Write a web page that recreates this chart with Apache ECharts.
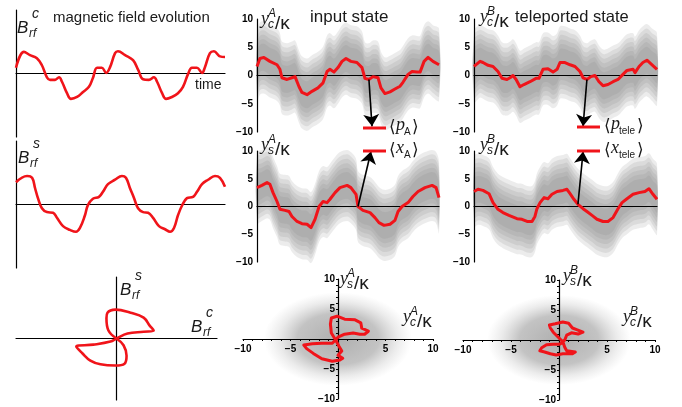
<!DOCTYPE html>
<html>
<head>
<meta charset="utf-8">
<script src="https://cdn.jsdelivr.net/npm/echarts@6/dist/echarts.min.js"></script>
<style>
  html, body { margin: 0; padding: 0; background: #fff; }
  #chart { width: 682px; height: 407px; }
</style>
</head>
<body>
<div id="chart"></div>
<script>
// magnetic field, cos quadrature (time 0..100, arb. units)
const bcT = [0,3.8,6.7,10.0,12.4,14.8,16.3,18.7,20.6,22.0,24.4,26.3,29.2,32.1,34.9,36.8,38.8,41.1,43.1,45.0,47.4,48.8,52.2,56.0,58.4,60.8,63.6,66.0,67.5,69.9,71.8,74.6,77.5,79.9,82.3,84.2,86.6,89.0,90.4,92.8,94.7,97.6,100]
const bcV = [0.09,0.34,0.29,0.24,0.13,-0.06,-0.10,-0.10,-0.06,-0.13,-0.31,-0.40,-0.37,-0.29,-0.21,-0.07,0.09,0.09,0.01,0.10,0.32,0.35,0.29,0.21,0.06,-0.09,-0.10,-0.06,-0.13,-0.31,-0.40,-0.37,-0.31,-0.21,-0.01,0.09,0.09,0.01,0.10,0.32,0.35,0.27,0.26]
// magnetic field, sin quadrature
const bsT = [0,5.3,7.7,9.1,10.5,12.4,14.8,17.7,19.6,22.5,25.8,28.7,30.6,33.0,34.4,36.8,39.7,41.6,44.0,47.4,50.7,52.6,54.5,56.5,58.4,60.8,63.2,65.6,68.4,71.3,73.7,75.6,77.5,79.4,81.8,84.7,86.6,89.0,91.9,95.2,97.6,100]
const bsV = [0.35,0.45,0.42,0.26,0.10,-0.06,-0.12,-0.13,-0.21,-0.34,-0.40,-0.43,-0.37,-0.17,-0.01,0.09,0.12,0.20,0.32,0.39,0.45,0.42,0.26,0.10,-0.06,-0.12,-0.13,-0.21,-0.34,-0.39,-0.43,-0.37,-0.17,-0.02,0.10,0.12,0.20,0.32,0.39,0.45,0.42,0.28]
// phase-space loop of the field
const loopBc = [0,-0.08,-0.10,-0.09,-0.01,0.14,0.27,0.33,0.37,0.27,0.11,0,-0.06,-0.23,-0.40,-0.34,-0.26,-0.16,-0.01,0.08,0.10,0.07,0]
const loopBs = [0,0.13,0.33,0.42,0.47,0.42,0.34,0.21,0.13,0.11,0.08,0,-0.05,-0.10,-0.13,-0.24,-0.36,-0.42,-0.44,-0.41,-0.28,-0.11,0]

// input state, y_c^A / kappa
const ycAT = [0,1.6,3.8,7.1,11.0,12.6,13.7,16.5,19.2,20.9,23.1,24.7,27.5,30.2,33.5,36.3,38.5,40.1,42.3,44.5,46.7,48.9,51.6,54.9,57.7,59.3,61.5,63.7,66.5,68.1,70.3,73.1,75.8,78.6,80.2,83.0,85.2,87.9,89.6,91.8,94.0,96.7,100]
const ycAV = [1.6,3.0,3.2,2.5,1.9,1.1,-0.4,-0.7,-0.4,-0.2,-2.0,-3.0,-3.4,-2.8,-2.2,-1.3,0.7,1.1,0.6,1.4,2.5,3.0,2.5,2.3,1.4,-0.5,-0.7,-0.2,-0.4,-2.2,-3.2,-2.9,-2.4,-1.9,-1.2,0.2,0.7,0.6,0.6,2.5,3.2,2.5,1.9]
// input state, y_s^A / kappa
const ysAT = [0,2.7,5.5,7.1,8.8,11.0,12.6,15.4,17.6,19.2,22.0,24.7,27.5,29.7,31.9,34.1,36.3,38.5,40.1,42.9,45.6,49.5,51.6,54.4,55.5,58.2,62.1,64.8,67.0,69.8,73.1,75.8,77.5,79.7,83.0,85.7,88.5,92.3,96.2,98.4,100]
const ysAV = [3.4,3.8,4.3,4.0,2.5,0.9,-0.5,-0.7,-0.9,-1.8,-2.7,-3.1,-3.2,-3.8,-2.3,0,0.9,0.7,1.3,2.5,3.4,3.8,3.4,2.2,0,-0.7,-1.1,-2.0,-2.9,-3.4,-3.2,-2.5,-0.9,0,0.7,1.8,2.7,3.4,3.8,3.4,1.6]
// teleported state, y_c^B / kappa
const ycBT = [0,3.3,4.9,7.7,10.4,13.1,15.3,18.0,19.7,21.3,23.0,25.1,27.3,30.6,33.9,35.5,37.7,40.4,43.2,45.4,47.0,49.7,52.5,55.2,57.9,59.6,61.7,63.9,66.1,68.3,70.5,73.2,76.0,78.7,81.4,83.6,86.9,88.0,90.2,92.3,94.5,97.3,100]
const ycBV = [1.6,2.5,2.3,1.8,1.6,0.7,-0.5,-0.7,-0.4,0,-0.7,-2.0,-1.6,-1.1,-0.5,-0.5,1.1,1.2,0.6,1.1,2.3,2.3,1.9,1.6,0.7,-0.4,-0.7,-0.2,0,-1.1,-1.8,-1.6,-1.1,-0.7,0.2,0.9,1.1,0.5,1.6,2.3,2.7,1.9,1.1]
// teleported state, y_s^B / kappa
const ysBT = [0,2.2,4.9,8.2,10.4,13.1,15.8,19.1,23.5,26.2,29.0,31.7,33.3,34.4,36.1,38.3,40.4,42.6,45.4,48.6,50.8,52.5,54.6,56.8,59.6,61.7,64.5,67.2,70.5,73.2,76.0,78.7,80.9,83.6,86.9,90.2,93.4,95.6,97.8,100]
const ysBV = [2.7,3.1,2.9,2.3,0.7,-0.5,-1.1,-1.6,-2.2,-2.3,-2.7,-2.7,-1.8,-0.4,0.7,1.6,1.4,2.2,2.7,2.9,3.1,2.3,1.3,0.4,-0.4,-0.9,-1.6,-2.3,-2.7,-2.7,-2.0,-0.4,0.7,1.4,2.2,2.5,2.7,3.2,2.2,1.3]
// half-widths of the measurement noise cloud (outer sparse .. inner dense)
const noiseSpread = [6.4, 5.6, 4.8, 4.0, 3.2, 2.4]

// phase-space loops (y_c, y_s)
const loopAc = [-0.2,-0.7,-0.8,-0.7,-0.1,0.7,1.8,2.4,2.5,3.2,2.8,2.3,1.6,0.7,0,-0.6,-1.7,-2.7,-3.6,-3.3,-2.6,-1.7,-0.6,0.2,0.5,0,0.4,0.1,-0.2]
const loopAs = [-0.3,1.0,2.5,3.5,3.8,3.3,3.2,2.7,1.8,1.3,0.8,0.8,1.0,0.8,0.3,-0.7,-0.7,-0.8,-1.0,-1.6,-2.4,-3.3,-3.7,-3.5,-3.2,-2.7,-2.0,-1.2,-0.3]
const loopBc2 = [-0.1,-0.6,-0.9,-1.0,-0.4,0.4,1.0,1.4,1.9,2.5,2.0,1.3,0.8,0.6,0.1,-0.6,-1.3,-1.8,-2.0,-1.5,-0.9,-0.3,0.4,1.4,1.7,0.8,0.6,0.4,-0.1]
const loopBs2 = [0.5,1.3,2.0,2.5,2.7,3.0,2.8,2.0,1.7,1.3,1.0,1.2,0.8,0,-0.7,-0.7,-0.8,-1.3,-1.8,-2.0,-2.3,-2.5,-2.3,-2.3,-2.0,-1.8,-1.2,-0.3,0.5]
// noise clouds: centre x, centre y, radius
const cloudA = [0, 0, 7.8]
const cloudB = [0, 0, 7.5]

// arrows from the traces to the legend keys
const arrowAtop = [[61.5, -0.7], [63.2, -9.0]]
const arrowAbot = [[55.5, 0], [62.6, 9.9]]
const arrowBtop = [[61.7, -0.7], [59.6, -9.0]]
const arrowBbot = [[56.8, 0.4], [59.6, 9.9]]

const RED = '#f0141a'
const zip = (a, b) => a.map((v, i) => [v, b[i]])

const chart = echarts.init(document.getElementById('chart'))

const grids = [
  { left: 16, top: 10, width: 209, height: 127 },
  { left: 16, top: 141, width: 209, height: 127 },
  { left: 16, top: 277, width: 201, height: 123 },
  { left: 257, top: 19, width: 182, height: 113 },
  { left: 257, top: 151, width: 182, height: 111 },
  { left: 243, top: 279, width: 190, height: 120 },
  { left: 474, top: 19, width: 183, height: 113 },
  { left: 474, top: 151, width: 183, height: 111 },
  { left: 463, top: 280, width: 192, height: 120 },
]

const line = { onZero: true, lineStyle: { color: '#000', width: 1.2 } }
const none = { show: false }
function plainAxis(i, min, max) {
  return { gridIndex: i, type: 'value', min: min, max: max, z: 1,
    axisLine: line, axisTick: none, axisLabel: none, splitLine: none }
}
const minus = (v) => String(v).replace('-', '\u2212')
const tickFont = { fontSize: 10, fontWeight: 'bold', color: '#000', fontFamily: '"Liberation Sans", Arial, sans-serif' }
function valueY(i) {
  return { gridIndex: i, type: 'value', min: -10, max: 10, interval: 5, z: 1,
    axisLine: line, axisTick: none, splitLine: none,
    axisLabel: Object.assign({ margin: 4, formatter: minus }, tickFont) }
}
// phase-space axes cross in the middle of the grid
function phaseAxis(i, dim) {
  const g = grids[i]
  return { gridIndex: i, type: 'value', min: -10, max: 10, interval: 1, z: 1,
    position: dim === 'x' ? 'bottom' : 'left',
    offset: dim === 'x' ? -g.height / 2 : -g.width / 2,
    axisLine: { onZero: false, lineStyle: { color: '#000', width: 1.2 } }, splitLine: none,
    axisTick: { show: true, length: 2, lineStyle: { color: '#000', width: 1 } },
    axisLabel: Object.assign({ margin: dim === 'x' ? 5 : 3, formatter: (v) => (v % 5 === 0 && v !== 0 ? minus(v) : '') }, tickFont) }
}

const xAxes = [
  plainAxis(0, 0, 100), plainAxis(1, 0, 100), plainAxis(2, -1, 1),
  plainAxis(3, 0, 100), plainAxis(4, 0, 100), phaseAxis(5, 'x'),
  plainAxis(6, 0, 100), plainAxis(7, 0, 100), phaseAxis(8, 'x'),
]
const yAxes = [
  plainAxis(0, -1, 1), plainAxis(1, -1, 1), plainAxis(2, -1, 1),
  valueY(3), valueY(4), phaseAxis(5, 'y'),
  valueY(6), valueY(7), phaseAxis(8, 'y'),
]

function redLine(i, pts, smooth, w, arrow) {
  const s = { type: 'line', xAxisIndex: i, yAxisIndex: i, data: pts, smooth: smooth,
    showSymbol: false, silent: true, z: 3, clip: false,
    lineStyle: { color: RED, width: w, join: 'round' } }
  if (arrow) {
    s.markLine = { silent: true, symbol: ['none', 'arrow'], symbolSize: 12, z: 6,
      label: { show: false }, lineStyle: { color: '#000', width: 1.6, type: 'solid' },
      data: [[{ coord: arrow[0] }, { coord: arrow[1] }]] }
  }
  return s
}
// gray noise band around the averaged trace, built from soft layers
function band(i, t, v) {
  return { type: 'custom', xAxisIndex: i, yAxisIndex: i, data: [[0]], z: 0, silent: true,
    renderItem: (params, api) => ({
      type: 'group',
      children: noiseSpread.map((h) => {
        const up = t.map((x, j) => api.coord([x, v[j] + h]))
        const lo = t.map((x, j) => api.coord([x, v[j] - h])).reverse()
        return { type: 'polygon', shape: { points: up.concat(lo), smooth: 0.35 },
          style: { fill: 'rgba(125,125,125,0.15)' } }
      })
    }) }
}
function blob(i, c) {
  return { type: 'custom', xAxisIndex: i, yAxisIndex: i, data: [c], z: 0, silent: true,
    renderItem: (params, api) => {
      const p = api.coord([api.value(0), api.value(1)])
      const s = api.size([api.value(2), api.value(2)])
      return { type: 'circle', x: p[0], y: p[1], scaleY: s[1] / s[0],
        shape: { cx: 0, cy: 0, r: s[0] },
        style: { fill: new echarts.graphic.RadialGradient(0.5, 0.5, 0.5, [
          { offset: 0, color: 'rgba(125,125,125,0.62)' },
          { offset: 0.55, color: 'rgba(130,130,130,0.48)' },
          { offset: 0.8, color: 'rgba(145,145,145,0.18)' },
          { offset: 1, color: 'rgba(160,160,160,0)' }]) } }
    } }
}

const series = [
  redLine(0, zip(bcT, bcV), 0.4, 2.6),
  redLine(1, zip(bsT, bsV), 0.4, 2.6),
  redLine(2, zip(loopBc, loopBs), 0.4, 2.6),
  band(3, ycAT, ycAV), redLine(3, zip(ycAT, ycAV), false, 3, arrowAtop),
  band(4, ysAT, ysAV), redLine(4, zip(ysAT, ysAV), false, 3, arrowAbot),
  blob(5, cloudA), redLine(5, zip(loopAc, loopAs), false, 3),
  band(6, ycBT, ycBV), redLine(6, zip(ycBT, ycBV), false, 3, arrowBtop),
  band(7, ysBT, ysBV), redLine(7, zip(ysBT, ysBV), false, 3, arrowBbot),
  blob(8, cloudB), redLine(8, zip(loopBc2, loopBs2), false, 3),
]

// text helpers (x = left edge, base = baseline)
const SANS = '"Liberation Sans", Arial, sans-serif'
const SERIF = '"Liberation Serif", "Times New Roman", serif'
function txt(x, base, text, size, style, family) {
  return { type: 'text', x: x, y: base - 0.3 * size, silent: true, z: 10,
    style: { text: text, font: (style || 'normal') + ' ' + size + 'px ' + (family || SANS),
      fill: '#1a1a1a', align: 'left', verticalAlign: 'middle', textAlign: 'left', textVerticalAlign: 'middle' } }
}
function bLabel(x, base, sup) {
  return [txt(x, base, 'B', 17, 'italic'), txt(x + 12, base + 4, 'rf', 12, 'italic'), txt(x + 15, base - 15, sup, 14, 'italic')]
}
function yLabel(x, base, sub, sup) {
  return [txt(x, base, 'y', 18, 'italic', SERIF), txt(x + 7, base + 3, sub, 12, 'italic'),
    txt(x + 7, base - 8, sup, 12, 'italic'), txt(x + 14, base + 4, '/\u03ba', 19)]
}
function key(x, y) {
  return { type: 'line', silent: true, z: 10, shape: { x1: x, y1: y, x2: x + 23, y2: y }, style: { stroke: RED, lineWidth: 3 } }
}
function bracket(x, mid, v, sub, w) {
  return [txt(x, mid + 5, '\u27e8', 17, 'normal', '"DejaVu Sans", sans-serif'),
    txt(x + 7, mid + 3, v, 18, 'italic', SERIF), txt(x + 15, mid + 7, sub, 10, 'normal'),
    txt(x + 15 + w, mid + 5, '\u27e9', 17, 'normal', '"DejaVu Sans", sans-serif')]
}

const elements = [
  txt(53, 22, 'magnetic field evolution', 15),
  txt(195, 89, 'time', 14),
  ...bLabel(17, 33, 'c'),
  ...bLabel(18, 163, 's'),
  ...bLabel(120, 295, 's'),
  ...bLabel(191, 332, 'c'),
  txt(310, 22, 'input state', 17),
  txt(515, 22, 'teleported state', 16.5),
  ...yLabel(261, 25, 'c', 'A'),
  ...yLabel(261, 151, 's', 'A'),
  ...yLabel(340, 285, 's', 'A'),
  ...yLabel(403, 323, 'c', 'A'),
  ...yLabel(480, 23, 'c', 'B'),
  ...yLabel(480, 151, 's', 'B'),
  ...yLabel(563, 282, 's', 'B'),
  ...yLabel(623, 323, 'c', 'B'),
  key(363, 128), key(363, 151), key(577, 127), key(577, 151),
  ...bracket(389, 128, 'p', 'A', 8),
  ...bracket(389, 151, 'x', 'A', 8),
  ...bracket(604, 127, 'p', 'tele', 18),
  ...bracket(604, 151, 'x', 'tele', 18),
]

chart.setOption({
  animation: false,
  backgroundColor: '#fff',
  grid: grids,
  xAxis: xAxes,
  yAxis: yAxes,
  series: series,
  graphic: { elements: elements },
})
</script>
</body>
</html>
